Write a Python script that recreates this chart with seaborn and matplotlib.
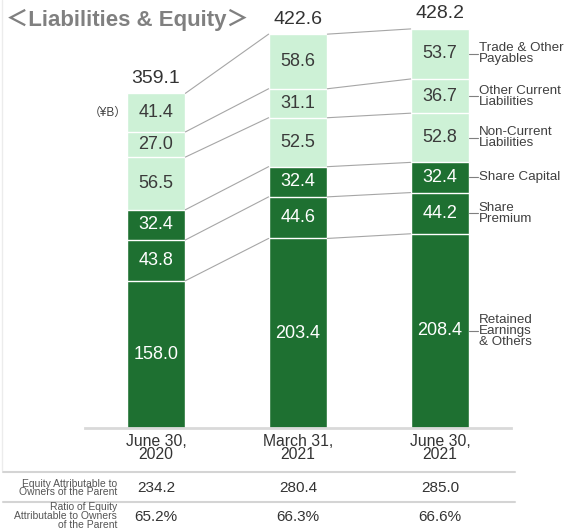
import numpy as np
import pandas as pd
import seaborn as sns
import matplotlib.pyplot as plt
from matplotlib.lines import Line2D

periods = ["June 30,\n2020", "March 31,\n2021", "June 30,\n2021"]
# bottom to top
segments = ["Retained\nEarnings\n& Others", "Share\nPremium", "Share Capital",
            "Non-Current\nLiabilities", "Other Current\nLiabilities", "Trade & Other\nPayables"]
retained = [158.0, 203.4, 208.4]
premium = [43.8, 44.6, 44.2]
capital = [32.4, 32.4, 32.4]
noncurrent = [56.5, 52.5, 52.8]
other_current = [27.0, 31.1, 36.7]
trade = [41.4, 58.6, 53.7]
totals = ["359.1", "422.6", "428.2"]
equity_parent = ["234.2", "280.4", "285.0"]
equity_ratio = ["65.2%", "66.3%", "66.6%"]

values = np.array([retained, premium, capital, noncurrent, other_current, trade])
cum = values.cumsum(axis=0)

dark = "#1e7031"
light = "#cdf1d6"
colors = [dark, dark, dark, light, light, light]

sns.set_style("white")
plt.rcParams["font.family"] = ["Liberation Sans", "Noto Sans CJK JP", "DejaVu Sans"]

W, H = 570, 531
fig = plt.figure(figsize=(W / 100, H / 100), dpi=100)


def fx(x):
    return x / W


def fy(y):
    return 1 - y / H


ax = fig.add_axes([fx(85), fy(428), fx(426), 440 * 0.932 / H])

# stacked bars: draw cumulative tops from the highest down
for k in range(len(segments) - 1, -1, -1):
    df = pd.DataFrame({"period": periods, "top": cum[k]})
    sns.barplot(data=df, x="period", y="top", color=colors[k], width=0.414,
                edgecolor="white", linewidth=1.0, saturation=1, ax=ax)

half = 0.207
for k in range(len(segments)):
    for i in range(len(periods)):
        mid = cum[k, i] - values[k, i] / 2
        tc = "white" if colors[k] == dark else "#3a3a3a"
        ax.text(i, mid, f"{values[k, i]:.1f}", ha="center", va="center",
                fontsize=13, color=tc)
        if i < len(periods) - 1:
            ax.plot([i + half, i + 1 - half], [cum[k, i], cum[k, i + 1]],
                    color="#a6a6a6", lw=0.8, clip_on=False)
    # right-side labels
    mid = cum[k, 2] - values[k, 2] / 2
    ax.plot([2 + half, 2 + half + 0.06], [mid, mid], color="#7f7f7f", lw=0.8, clip_on=False)
    ax.text(2 + half + 0.065, mid, segments[k], ha="left", va="center",
            fontsize=9.6, color="#404040", linespacing=0.88)

for i, t in enumerate(totals):
    ax.text(i, cum[-1, i] + 7, t, ha="center", va="bottom", fontsize=14, color="#333333")

ax.set_xlim(-0.5, 2.5)
ax.set_ylim(0, 440)
ax.set_xlabel("")
ax.set_ylabel("")
ax.set_yticks([])
for s in ["left", "right", "top"]:
    ax.spines[s].set_visible(False)
ax.spines["bottom"].set_color("#d9d9d9")
ax.spines["bottom"].set_linewidth(2)
ax.tick_params(axis="x", length=0, pad=4, labelsize=11.3, labelcolor="#333333")
for lab in ax.get_xticklabels():
    lab.set_linespacing(0.9)

# title and unit
fig.text(fx(6), fy(20), "＜Liabilities & Equity＞", fontsize=16, fontweight="bold",
         color="#808080", ha="left", va="center")
fig.text(fx(108), fy(113), "（¥B）", fontsize=8.5, color="#404040", ha="center", va="center")

# table
for y in [472, 502]:
    fig.add_artist(Line2D([fx(3), fx(515)], [fy(y), fy(y)], color="#d4d4d4", lw=1.5))
fig.add_artist(Line2D([fx(2), fx(2)], [fy(0), fy(470)], color="#ececec", lw=1))

fig.text(fx(117), fy(488), "Equity Attributable to\nOwners of the Parent", fontsize=7.5,
         color="#555555", ha="right", va="center", linespacing=0.85)
fig.text(fx(117), fy(516), "Ratio of Equity\nAttributable to Owners\nof the Parent", fontsize=7.5,
         color="#555555", ha="right", va="center", linespacing=0.82)
centers = [156, 298, 440]
for c, a, b in zip(centers, equity_parent, equity_ratio):
    fig.text(fx(c), fy(488), a, fontsize=11, color="#333333", ha="center", va="center")
    fig.text(fx(c), fy(517), b, fontsize=11, color="#333333", ha="center", va="center")

fig.savefig("out.png", dpi=100)
